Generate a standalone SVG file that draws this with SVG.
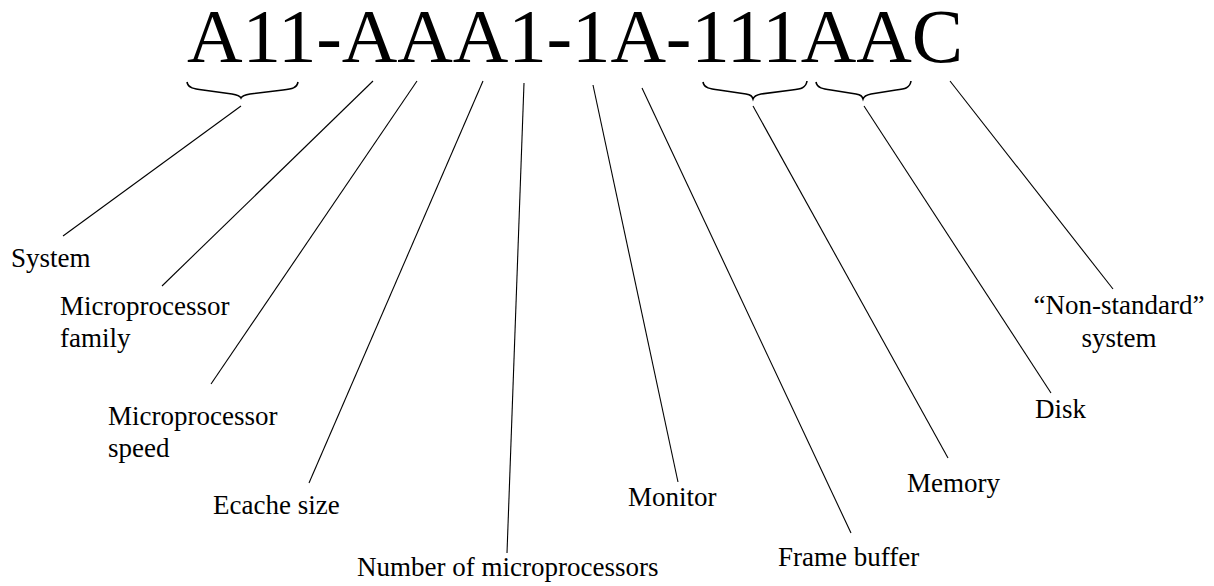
<svg xmlns="http://www.w3.org/2000/svg" width="1214" height="586" viewBox="0 0 1214 586">
<style>
text{font-family:"Liberation Serif","Times New Roman",serif;fill:#000}
.lbl{font-size:27px}
.title{font-size:77px}
.ln{stroke:#000;stroke-width:1.1;fill:none}
.br{stroke:#000;stroke-width:1.6;fill:none}
</style>
<rect width="1214" height="586" fill="#fff"/>
<g id="code"><text class="title" x="187" y="62" textLength="776" lengthAdjust="spacing">A11-AAA1-1A-111AAC</text></g>
<g id="connectors">
<path class="br" d="M187,82 C188,88 194,89 203,90 L232,94 C238,95 240,96 241,98 C242,96 244,95 250,94 L283,90 C292,89 297,88 298,82"/>
<path class="br" d="M703,82 C704,88 710,89 719,90 L746,94 C751,95 752,96 753,99 C754,96 756,95 761,94 L792,90 C801,89 806,88 807,81"/>
<path class="br" d="M816,82 C817,88 823,89 831,90 L856,94 C861,95 862,96 863,99 C864,96 866,95 871,94 L896,90 C905,89 910,88 911,81"/>
<line class="ln" x1="241" y1="106" x2="63" y2="236"/>
<line class="ln" x1="373" y1="81" x2="162" y2="286"/>
<line class="ln" x1="417" y1="81" x2="211" y2="384"/>
<line class="ln" x1="483" y1="81" x2="309" y2="483"/>
<line class="ln" x1="524" y1="83" x2="507" y2="553"/>
<line class="ln" x1="593" y1="85" x2="678" y2="482"/>
<line class="ln" x1="642" y1="88" x2="851" y2="533"/>
<line class="ln" x1="753" y1="106" x2="948" y2="458"/>
<line class="ln" x1="864" y1="106" x2="1051" y2="393"/>
<line class="ln" x1="950" y1="81" x2="1113" y2="289"/>
</g>
<g id="system"><text class="lbl" x="11" y="267">System</text></g>
<g id="family"><text class="lbl" x="60" y="315">Microprocessor</text><text class="lbl" x="60" y="347">family</text></g>
<g id="speed"><text class="lbl" x="108" y="425">Microprocessor</text><text class="lbl" x="108" y="457">speed</text></g>
<g id="ecache"><text class="lbl" x="213" y="514">Ecache size</text></g>
<g id="number"><text class="lbl" x="357" y="576">Number of microprocessors</text></g>
<g id="monitor"><text class="lbl" x="628" y="506">Monitor</text></g>
<g id="framebuffer"><text class="lbl" x="778" y="566">Frame buffer</text></g>
<g id="memory"><text class="lbl" x="907" y="492">Memory</text></g>
<g id="disk"><text class="lbl" x="1035" y="418">Disk</text></g>
<g id="nonstandard"><text class="lbl" x="1119" y="314" text-anchor="middle">“Non-standard”</text><text class="lbl" x="1119" y="347" text-anchor="middle">system</text></g>
</svg>
